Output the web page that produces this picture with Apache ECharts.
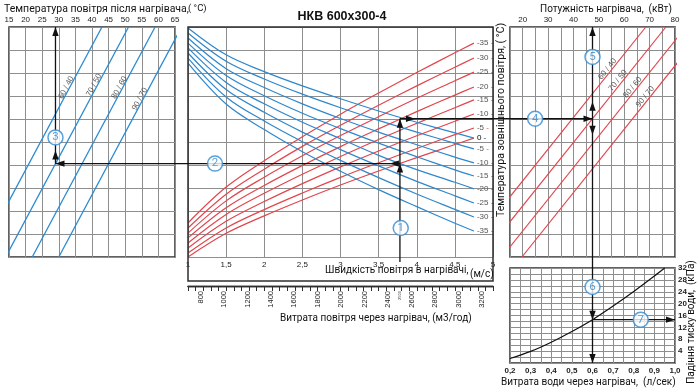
<!DOCTYPE html>
<html><head><meta charset="utf-8">
<script src="https://cdn.jsdelivr.net/npm/echarts@6/dist/echarts.min.js"></script>
<style>html,body{margin:0;padding:0;background:#fff}#c{width:700px;height:389px}</style>
</head><body><div id="c"></div>
<script>
// ===== DATA =====
// centre nomogram: air velocity (m/s) and curve heights (relative scale 0..10)
const velocity = [1, 1.5, 2, 2.5, 3, 3.5, 4, 4.5, 4.75];
const outdoorLabels = ['-35', '-30', '-25', '-20', '-15', '-10', '-5', '0'];
// red family (rising)
const redM35 = [1.48, 3.04, 4.19, 5.23, 6.21, 7.13, 8.02, 8.88, 9.30];
const redM30 = [1.26, 2.73, 3.82, 4.81, 5.73, 6.60, 7.44, 8.25, 8.65];
const redM25 = [1.04, 2.44, 3.47, 4.40, 5.28, 6.10, 6.90, 7.66, 8.04];
const redM20 = [0.83, 2.14, 3.11, 3.98, 4.80, 5.57, 6.32, 7.04, 7.39];
const redM15 = [0.61, 1.85, 2.77, 3.60, 4.37, 5.11, 5.81, 6.49, 6.83];
const redM10 = [0.39, 1.55, 2.41, 3.19, 3.92, 4.61, 5.27, 5.90, 6.22];
const redM5  = [0.17, 1.26, 2.06, 2.78, 3.46, 4.10, 4.72, 5.32, 5.61];
const red0   = [0.00, 1.03, 1.79, 2.48, 3.13, 3.74, 4.32, 4.89, 5.17];
// blue family (falling)
const blue0   = [9.96, 8.79, 8.06, 7.44, 6.88, 6.35, 5.86, 5.40, 5.17];
const blueM5  = [9.74, 8.51, 7.74, 7.08, 6.49, 5.94, 5.43, 4.94, 4.70];
const blueM10 = [9.52, 8.19, 7.37, 6.66, 6.02, 5.43, 4.88, 4.34, 4.09];
const blueM15 = [9.30, 7.89, 7.01, 6.25, 5.58, 4.95, 4.36, 3.79, 3.52];
const blueM20 = [9.09, 7.59, 6.66, 5.86, 5.14, 4.42, 3.80, 3.25, 2.96];
const blueM25 = [8.87, 7.28, 6.29, 5.43, 4.67, 3.96, 3.29, 2.66, 2.35];
const blueM30 = [8.65, 6.96, 5.91, 5.01, 4.20, 3.45, 2.74, 2.07, 1.74];
const blueM35 = [8.43, 6.65, 5.54, 4.58, 3.73, 2.93, 2.19, 1.47, 1.13];
const redCurves  = [redM35, redM30, redM25, redM20, redM15, redM10, redM5, red0];
const blueCurves = [blueM35, blueM30, blueM25, blueM20, blueM15, blueM10, blueM5, blue0];

// air flow scale (m3/h) under the velocity scale
const airflowRange = [692, 3294];
const airflowTicks = [800, 1000, 1200, 1400, 1600, 1800, 2000, 2200, 2400, 2500, 2600, 2800, 3000, 3200];

// left panel: supply air temperature lines (°C at bottom / top of scale)
const regimeLabels = ['60 / 40', '70 / 50', '80 / 60', '90 / 70'];
const leftLineBottom = [6.0, 14.0, 22.0, 30.0];
const leftLineTop    = [43.0, 51.0, 59.0, 67.0];
const leftLabelPos   = [[33.75, 7.5], [42.1, 7.6], [49.75, 7.5], [55.9, 7.0]];

// right panel: heater power lines (kW at bottom / top of scale)
const rightLineBottom = [-4.0, 3.9, 11.8, 19.7];
const rightLineTop    = [68.5, 76.4, 84.3, 92.2];
const rightLabelPos   = [[55.6, 8.2], [59.7, 7.7], [65.5, 7.4], [70.5, 7.0]];

// water side: flow (l/s) vs pressure drop (kPa)
const waterFlow     = [0.2, 0.3, 0.4, 0.5, 0.6, 0.7, 0.8, 0.9, 0.95];
const pressureDrop  = [1.5, 3.9, 7.0, 10.6, 14.6, 19.2, 24.1, 29.3, 32.0];

// worked example
const exVelocity = 3.79, exAirflow = 2500, exBlueY = 4.06, exRedY = 6.01;
const exSupplyTemp = 29.0, exPower = 47.5, exWater = 0.6, exDrop = 14.6;
// circled step markers [x, y, number] per panel
const markCentre = [[3.79, 1.26, 1], [1.354, 4.06, 2]];
const markLeft   = [[29.0, 5.2, 3]];
const markRight  = [[24.9, 6.01, 4], [47.5, 8.7, 5]];
const markBottom = [[0.6, 25.6, 6], [0.834, 14.6, 7]];

// ===== CHART =====
const NUM = 'Liberation Sans, Arial, sans-serif';
const TXT = 'Roboto, "Noto Sans", sans-serif';
const gridLine = {show: true, lineStyle: {color: '#8e8e8e', width: 1}};
const noLine = {show: false};
const border = {show: true, borderColor: '#2e2e2e', borderWidth: 1.5, backgroundColor: '#fff'};
const C = {left: 188, top: 27, width: 305, height: 230};

function commaFmt(v) { return String(+v.toFixed(2)).replace('.', ','); }

const series = [];
const BLUE = '#2f87cc', RED = '#e2464d';
redCurves.forEach((arr, i) => {
  series.push({type: 'line', xAxisIndex: 1, yAxisIndex: 1, smooth: 0.35, symbol: 'none',
    data: velocity.map((v, k) => [v, arr[k]]), lineStyle: {color: RED, width: 1.2}, z: 3,
    endLabel: {show: true, distance: 3, formatter: '{t|' + outdoorLabels[i] + '}{d| -}',
      rich: {t: {color: '#555', fontSize: 8, fontFamily: NUM}, d: {color: RED, fontSize: 8, fontFamily: NUM}}}});
});
blueCurves.forEach((arr, i) => {
  series.push({type: 'line', xAxisIndex: 1, yAxisIndex: 1, smooth: 0.35, symbol: 'none',
    data: velocity.map((v, k) => [v, arr[k]]), lineStyle: {color: BLUE, width: 1.2}, z: 3,
    endLabel: {show: true, distance: 3, formatter: '{t|' + outdoorLabels[i] + '}{d| -}',
      rich: {t: {color: '#555', fontSize: 8, fontFamily: NUM}, d: {color: BLUE, fontSize: 8, fontFamily: NUM}}}});
});
leftLineBottom.forEach((b, i) => {
  series.push({type: 'line', xAxisIndex: 0, yAxisIndex: 0, symbol: 'none', clip: true,
    data: [[b, 0], [leftLineTop[i], 10]], lineStyle: {color: '#2a8ad2', width: 1.3}, z: 3});
});
rightLineBottom.forEach((b, i) => {
  series.push({type: 'line', xAxisIndex: 4, yAxisIndex: 2, symbol: 'none', clip: true,
    data: [[b, 0], [rightLineTop[i], 10]], lineStyle: {color: RED, width: 1.2}, z: 3});
});
series.push({type: 'scatter', xAxisIndex: 0, yAxisIndex: 0, symbolSize: 0, z: 4,
  data: leftLabelPos.map((p, i) => [p[0], p[1], regimeLabels[i]]),
  label: {show: true, formatter: p => p.data[2], rotate: 62, offset: [-5, -3], color: '#333', fontSize: 8, fontFamily: NUM}});
series.push({type: 'scatter', xAxisIndex: 4, yAxisIndex: 2, symbolSize: 0, z: 4,
  data: rightLabelPos.map((p, i) => [p[0], p[1], regimeLabels[i]]),
  label: {show: true, formatter: p => p.data[2], rotate: 51, offset: [-4, -4], color: '#333', fontSize: 8, fontFamily: NUM}});
series.push({type: 'line', xAxisIndex: 5, yAxisIndex: 3, smooth: 0.3, symbol: 'none',
  data: waterFlow.map((q, k) => [q, pressureDrop[k]]), lineStyle: {color: '#111', width: 1.2}, z: 3});

const markStyle = {symbolSize: 15, z: 100, itemStyle: {color: '#fff', borderColor: '#2f8ad2', borderWidth: 1.5},
  label: {show: true, position: 'inside', formatter: p => p.data[2], color: '#2f8ad2', fontSize: 11.5, fontFamily: TXT}};
series.push(Object.assign({type: 'scatter', xAxisIndex: 1, yAxisIndex: 1, data: markCentre}, markStyle));
series.push(Object.assign({type: 'scatter', xAxisIndex: 0, yAxisIndex: 0, data: markLeft}, markStyle));
series.push(Object.assign({type: 'scatter', xAxisIndex: 4, yAxisIndex: 2, data: markRight}, markStyle));
series.push(Object.assign({type: 'scatter', xAxisIndex: 5, yAxisIndex: 3, data: markBottom}, markStyle));

const numLabel = {fontSize: 8, color: '#222', fontFamily: NUM};
const option = {
  animation: false,
  backgroundColor: '#ffffff',
  grid: [
    Object.assign({left: 9, top: 27, width: 166, height: 230}, border),
    {left: C.left, top: C.top, width: C.width, height: C.height, show: false},
    Object.assign({left: 510, top: 27, width: 165, height: 230}, border),
    Object.assign({left: 510, top: 268, width: 165, height: 95}, border),
    {left: C.left, top: C.top + C.height + 24, width: C.width, height: 5, show: false}
  ],
  xAxis: [
    {type: 'value', gridIndex: 0, position: 'top', min: 15, max: 65, interval: 5,
      axisLine: noLine, axisTick: noLine, splitLine: gridLine, axisLabel: Object.assign({margin: 3}, numLabel)},
    {type: 'value', gridIndex: 1, position: 'bottom', min: 1, max: 5, interval: 0.5,
      axisLine: noLine, axisTick: noLine, splitLine: gridLine,
      axisLabel: Object.assign({margin: 4, formatter: commaFmt}, numLabel)},
    {type: 'value', gridIndex: 4, position: 'top', min: 1, max: 5, interval: 0.1,
      axisLine: {show: true, lineStyle: {color: '#2e2e2e', width: 1.3}},
      axisTick: {show: true, inside: true, length: 5, lineStyle: {color: '#2e2e2e', width: 1}},
      axisLabel: {show: false}, splitLine: noLine},
    {type: 'value', gridIndex: 4, position: 'bottom', min: airflowRange[0], max: airflowRange[1],
      axisLine: {show: true, lineStyle: {color: '#2e2e2e', width: 1.3}}, axisTick: noLine, splitLine: noLine,
      axisLabel: {rotate: 90, margin: 5, fontSize: 7.5, color: '#222', fontFamily: NUM, customValues: airflowTicks,
        formatter: v => v === exAirflow ? '{s|' + v + '}' : String(v), rich: {s: {fontSize: 4, color: '#444'}}}},
    {type: 'value', gridIndex: 2, position: 'top', min: 15, max: 80, interval: 5,
      axisLine: noLine, axisTick: noLine, splitLine: gridLine,
      axisLabel: Object.assign({margin: 3, formatter: v => (v % 10 === 0 ? String(v) : '')}, numLabel)},
    {type: 'value', gridIndex: 3, position: 'bottom', min: 0.2, max: 1.0, interval: 0.05,
      axisLine: noLine, axisTick: noLine, splitLine: gridLine,
      axisLabel: Object.assign({margin: 4, fontWeight: 'bold', color: '#333',
        formatter: v => (Math.abs(v * 10 - Math.round(v * 10)) < 1e-6 ? v.toFixed(1).replace('.', ',') : '')}, numLabel)}
  ],
  yAxis: [
    {type: 'value', gridIndex: 0, min: 0, max: 10, interval: 1, axisLine: noLine, axisTick: noLine, axisLabel: {show: false}, splitLine: gridLine},
    {type: 'value', gridIndex: 1, min: 0, max: 10, interval: 1, axisLine: noLine, axisTick: noLine, axisLabel: {show: false}, splitLine: gridLine},
    {type: 'value', gridIndex: 2, min: 0, max: 10, interval: 1, axisLine: noLine, axisTick: noLine, axisLabel: {show: false}, splitLine: gridLine},
    {type: 'value', gridIndex: 3, position: 'right', min: 0, max: 32, interval: 2, axisLine: noLine, axisTick: noLine, splitLine: gridLine,
      axisLabel: Object.assign({margin: 3, fontWeight: 'bold', color: '#333', formatter: v => (v % 4 === 0 && v > 0 ? String(v) : '')}, numLabel)},
    {type: 'value', gridIndex: 4, min: 0, max: 1, show: false}
  ],
  series: series
};

const chart = echarts.init(document.getElementById('c'));
chart.setOption(option);

const X = (i, v) => chart.convertToPixel({xAxisIndex: i}, v);
const Y = (i, v) => chart.convertToPixel({yAxisIndex: i}, v);
const g = [];
function seg(x1, y1, x2, y2) { g.push({type: 'line', z: 50, shape: {x1, y1, x2, y2}, style: {stroke: '#111', lineWidth: 1.3}}); }
function head(x, y, dir) {
  const L = 9, W = 3.2; let p;
  if (dir === 'up') p = [[x, y], [x - W, y + L], [x + W, y + L]];
  else if (dir === 'down') p = [[x, y], [x - W, y - L], [x + W, y - L]];
  else if (dir === 'left') p = [[x, y], [x + L, y - W], [x + L, y + W]];
  else p = [[x, y], [x - L, y - W], [x - L, y + W]];
  g.push({type: 'polygon', z: 51, shape: {points: p}, style: {fill: '#111'}});
}
function txt(s, x, y, font, align, rot) {
  g.push({type: 'text', z: 60, x: x, y: y, rotation: rot || 0,
    style: {text: s, font: font, fill: '#111', textAlign: align || 'left', textVerticalAlign: 'middle'}});
}
// centre outer box (grid + velocity label strip)
g.push({type: 'rect', z: 45, shape: {x: C.left, y: C.top, width: C.width, height: C.height + 24},
  style: {fill: 'none', stroke: '#2e2e2e', lineWidth: 1.5}});

// example path
const xa = X(3, exAirflow);
const yB = Y(1, exBlueY), yR = Y(1, exRedY), y0c = Y(1, 0);
seg(xa, y0c + 5, xa, yR); head(xa, yB, 'up'); head(xa, yR, 'up');
const xT = X(0, exSupplyTemp);
seg(xa, yB, xT, yB); head(xa - 10, yB, 'left'); head(xT, yB, 'left');
seg(xT, yB, xT, Y(0, 10)); head(xT, yB - 13, 'up'); head(xT, Y(0, 10), 'up');
const xP = X(4, exPower), yR2 = Y(2, exRedY);
seg(xa, yR2, xP, yR2); head(xa + 15, yR2, 'right'); head(xP, yR2, 'right');
seg(xP, Y(2, 10), xP, Y(3, 0)); head(xP, yR2 - 17, 'up'); head(xP, Y(2, 10), 'up');
head(xP, yR2 + 16, 'down'); const yD = Y(3, exDrop); head(xP, yD, 'down'); head(xP, Y(3, 0), 'down');
const xE = X(5, 1.0);
seg(xP, yD, xE, yD); head(xE, yD, 'right');

// texts
const F = '10px ' + TXT;
txt('Температура повітря після нагрівача,', 4, 9, '10.5px ' + TXT);
txt('( °C)', 188, 9, '9.5px ' + TXT);
txt('НКВ 600х300-4', 342, 17, 'bold 12.5px ' + NUM, 'center');
txt('Потужність нагрівача,  (кВт)', 540, 9, F);
txt('Температура зовнішнього повітря, ( °C)', 501, 120, '10.5px ' + TXT, 'center', Math.PI / 2);
txt('Швидкість повітря в нагрівачі,', 325, 270, F);
txt('(м/с)', 470, 274, F);
txt('Витрата повітря через нагрівач, (м3/год)', 280, 318, F);
txt('Падіння тиску води,  (кПа)', 691, 322, F, 'center', Math.PI / 2);
txt('Витрата води через нагрівач,  (л/сек)', 501, 382, F);
chart.setOption({graphic: g});
</script></body></html>
